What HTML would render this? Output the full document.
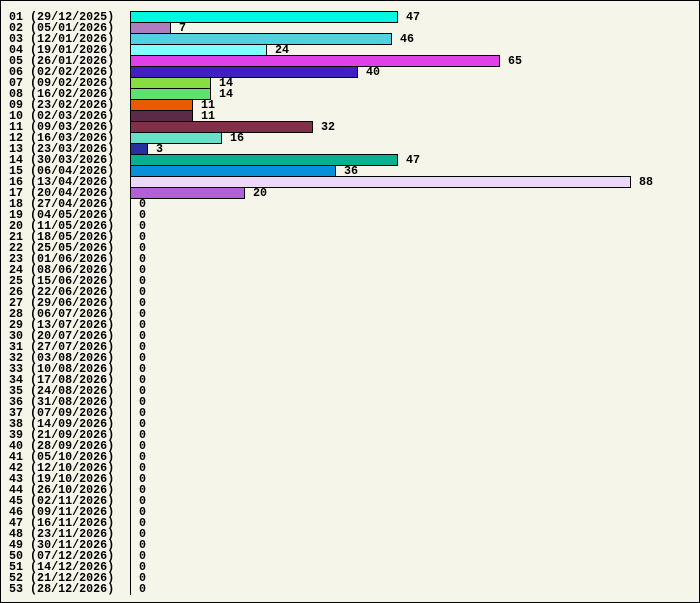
<!DOCTYPE html>
<html><head><meta charset="utf-8"><style>
html,body{margin:0;padding:0;background:#f5f5e9;}
svg{display:block;}
text{font-family:"Liberation Mono",monospace;font-weight:bold;font-size:11.7px;fill:#000;}
</style></head><body>
<svg width="700" height="603" viewBox="0 0 700 603">
<rect x="0.5" y="0.5" width="699" height="602" fill="#f5f5e9" stroke="#000"/>
<g stroke="#000" stroke-width="1">
<rect x="130.5" y="11.5" width="267" height="11" fill="#00f8e0"/>
<rect x="130.5" y="22.5" width="40" height="11" fill="#b07cc0"/>
<rect x="130.5" y="33.5" width="261" height="11" fill="#50d0e0"/>
<rect x="130.5" y="44.5" width="136" height="11" fill="#80ffff"/>
<rect x="130.5" y="55.5" width="369" height="11" fill="#e040e8"/>
<rect x="130.5" y="66.5" width="227" height="11" fill="#4020c0"/>
<rect x="130.5" y="77.5" width="80" height="11" fill="#88dd40"/>
<rect x="130.5" y="88.5" width="80" height="11" fill="#60e070"/>
<rect x="130.5" y="99.5" width="62" height="11" fill="#e85a00"/>
<rect x="130.5" y="110.5" width="62" height="11" fill="#5a2a48"/>
<rect x="130.5" y="121.5" width="182" height="11" fill="#803048"/>
<rect x="130.5" y="132.5" width="91" height="11" fill="#68e0c8"/>
<rect x="130.5" y="143.5" width="17" height="11" fill="#2830a0"/>
<rect x="130.5" y="154.5" width="267" height="11" fill="#08b090"/>
<rect x="130.5" y="165.5" width="205" height="11" fill="#0890d8"/>
<rect x="130.5" y="176.5" width="500" height="11" fill="#ecd8f8"/>
<rect x="130.5" y="187.5" width="114" height="11" fill="#b060d8"/>
<line x1="130.5" y1="11" x2="130.5" y2="595"/>
</g>
<g>
<text x="9" y="20">01 (29/12/2025)</text><text x="406" y="20">47</text>
<text x="9" y="31">02 (05/01/2026)</text><text x="179" y="31">7</text>
<text x="9" y="42">03 (12/01/2026)</text><text x="400" y="42">46</text>
<text x="9" y="53">04 (19/01/2026)</text><text x="275" y="53">24</text>
<text x="9" y="64">05 (26/01/2026)</text><text x="508" y="64">65</text>
<text x="9" y="75">06 (02/02/2026)</text><text x="366" y="75">40</text>
<text x="9" y="86">07 (09/02/2026)</text><text x="219" y="86">14</text>
<text x="9" y="97">08 (16/02/2026)</text><text x="219" y="97">14</text>
<text x="9" y="108">09 (23/02/2026)</text><text x="201" y="108">11</text>
<text x="9" y="119">10 (02/03/2026)</text><text x="201" y="119">11</text>
<text x="9" y="130">11 (09/03/2026)</text><text x="321" y="130">32</text>
<text x="9" y="141">12 (16/03/2026)</text><text x="230" y="141">16</text>
<text x="9" y="152">13 (23/03/2026)</text><text x="156" y="152">3</text>
<text x="9" y="163">14 (30/03/2026)</text><text x="406" y="163">47</text>
<text x="9" y="174">15 (06/04/2026)</text><text x="344" y="174">36</text>
<text x="9" y="185">16 (13/04/2026)</text><text x="639" y="185">88</text>
<text x="9" y="196">17 (20/04/2026)</text><text x="253" y="196">20</text>
<text x="9" y="207">18 (27/04/2026)</text><text x="139" y="207">0</text>
<text x="9" y="218">19 (04/05/2026)</text><text x="139" y="218">0</text>
<text x="9" y="229">20 (11/05/2026)</text><text x="139" y="229">0</text>
<text x="9" y="240">21 (18/05/2026)</text><text x="139" y="240">0</text>
<text x="9" y="251">22 (25/05/2026)</text><text x="139" y="251">0</text>
<text x="9" y="262">23 (01/06/2026)</text><text x="139" y="262">0</text>
<text x="9" y="273">24 (08/06/2026)</text><text x="139" y="273">0</text>
<text x="9" y="284">25 (15/06/2026)</text><text x="139" y="284">0</text>
<text x="9" y="295">26 (22/06/2026)</text><text x="139" y="295">0</text>
<text x="9" y="306">27 (29/06/2026)</text><text x="139" y="306">0</text>
<text x="9" y="317">28 (06/07/2026)</text><text x="139" y="317">0</text>
<text x="9" y="328">29 (13/07/2026)</text><text x="139" y="328">0</text>
<text x="9" y="339">30 (20/07/2026)</text><text x="139" y="339">0</text>
<text x="9" y="350">31 (27/07/2026)</text><text x="139" y="350">0</text>
<text x="9" y="361">32 (03/08/2026)</text><text x="139" y="361">0</text>
<text x="9" y="372">33 (10/08/2026)</text><text x="139" y="372">0</text>
<text x="9" y="383">34 (17/08/2026)</text><text x="139" y="383">0</text>
<text x="9" y="394">35 (24/08/2026)</text><text x="139" y="394">0</text>
<text x="9" y="405">36 (31/08/2026)</text><text x="139" y="405">0</text>
<text x="9" y="416">37 (07/09/2026)</text><text x="139" y="416">0</text>
<text x="9" y="427">38 (14/09/2026)</text><text x="139" y="427">0</text>
<text x="9" y="438">39 (21/09/2026)</text><text x="139" y="438">0</text>
<text x="9" y="449">40 (28/09/2026)</text><text x="139" y="449">0</text>
<text x="9" y="460">41 (05/10/2026)</text><text x="139" y="460">0</text>
<text x="9" y="471">42 (12/10/2026)</text><text x="139" y="471">0</text>
<text x="9" y="482">43 (19/10/2026)</text><text x="139" y="482">0</text>
<text x="9" y="493">44 (26/10/2026)</text><text x="139" y="493">0</text>
<text x="9" y="504">45 (02/11/2026)</text><text x="139" y="504">0</text>
<text x="9" y="515">46 (09/11/2026)</text><text x="139" y="515">0</text>
<text x="9" y="526">47 (16/11/2026)</text><text x="139" y="526">0</text>
<text x="9" y="537">48 (23/11/2026)</text><text x="139" y="537">0</text>
<text x="9" y="548">49 (30/11/2026)</text><text x="139" y="548">0</text>
<text x="9" y="559">50 (07/12/2026)</text><text x="139" y="559">0</text>
<text x="9" y="570">51 (14/12/2026)</text><text x="139" y="570">0</text>
<text x="9" y="581">52 (21/12/2026)</text><text x="139" y="581">0</text>
<text x="9" y="592">53 (28/12/2026)</text><text x="139" y="592">0</text>
</g>
</svg>
</body></html>
